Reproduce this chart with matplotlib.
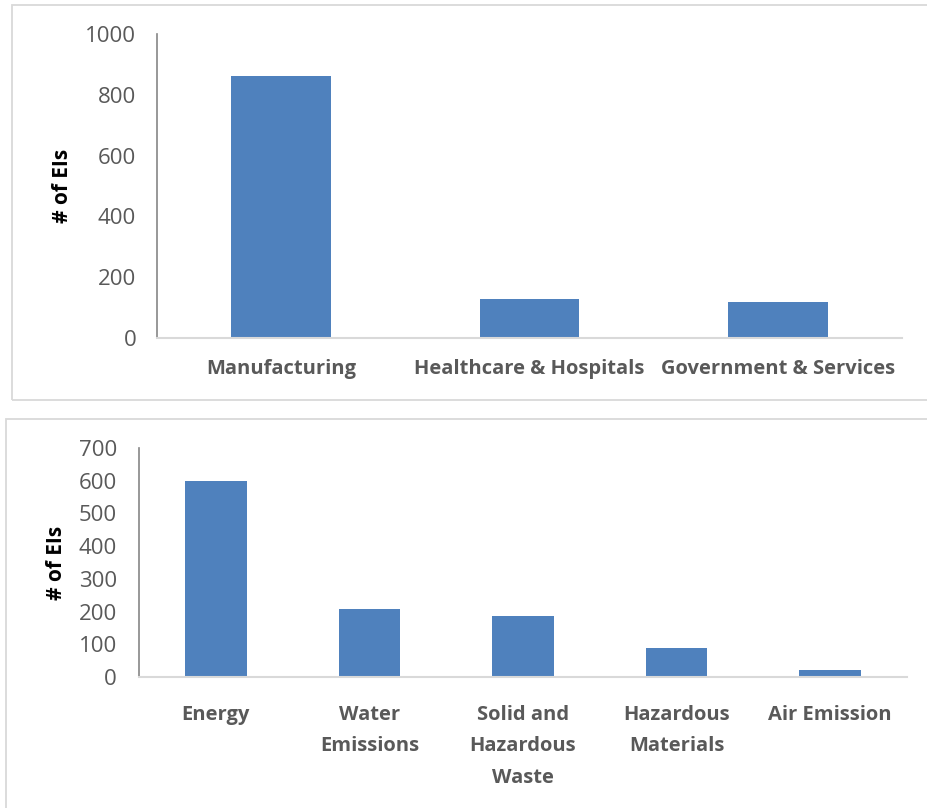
import matplotlib
matplotlib.use("Agg")
import matplotlib.pyplot as plt
from matplotlib.patches import Rectangle
from matplotlib.transforms import blended_transform_factory

# Data
sectors = ["Manufacturing", "Healthcare & Hospitals", "Government & Services"]
sector_counts = [862, 129, 118]
sector_ticks = [0, 200, 400, 600, 800, 1000]

impacts = ["Energy", "Water\nEmissions", "Solid and\nHazardous\nWaste", "Hazardous\nMaterials", "Air Emission"]
impact_counts = [600, 207, 186, 88, 20]
impact_ticks = [0, 100, 200, 300, 400, 500, 600, 700]

BAR = "#4f81bd"
TICK = "#595959"
FONT = "Open Sans"

W, H = 927, 808
fig = plt.figure(figsize=(W / 100, H / 100), dpi=100)

def px_rect(x0, y0, x1, y1):
    # convert a pixel box (top-left origin) to figure fractions
    return [x0 / W, 1 - y1 / H, (x1 - x0) / W, (y1 - y0) / H]

# panel frames
for (x0, y0, x1, y1) in [(12, 5, 940, 400), (6, 419, 940, 830)]:
    l, b, w, h = px_rect(x0, y0, x1, y1)
    fig.patches.append(Rectangle((l, b), w, h, transform=fig.transFigure,
                                 fill=False, edgecolor="#d9d9d9", linewidth=1.3,
                                 clip_on=False))

def style(ax, ticks, ylabel, label_x, ypad):
    ax.set_yticks(ticks)
    ax.set_ylim(ticks[0], ticks[-1])
    for s in ("top", "right"):
        ax.spines[s].set_visible(False)
    ax.spines["left"].set_color("#868686")
    ax.spines["left"].set_linewidth(1.2)
    ax.spines["bottom"].set_color("#d9d9d9")
    ax.spines["bottom"].set_linewidth(1.5)
    ax.tick_params(axis="both", length=0)
    ax.tick_params(axis="y", labelsize=16, labelcolor=TICK, pad=ypad)
    for t in ax.get_yticklabels():
        t.set_fontfamily(FONT)
    for t in ax.get_xticklabels():
        t.set_fontfamily(FONT)
        t.set_fontweight("bold")
        t.set_fontsize(14.5)
        t.set_color(TICK)
        t.set_linespacing(1.78)
        t.set_verticalalignment("top")
    ax.set_ylabel(ylabel, fontsize=15, fontweight="bold", family=FONT, color="black")
    ax.yaxis.set_label_coords(label_x, 0.5,
                              transform=blended_transform_factory(fig.transFigure, ax.transAxes))

# top chart
ax1 = fig.add_axes(px_rect(157, 34, 902, 338))
x1 = range(len(sectors))
ax1.bar(x1, sector_counts, width=0.4, color=BAR)
ax1.set_xlim(-0.5, len(sectors) - 0.5)
ax1.set_xticks(list(x1))
ax1.set_xticklabels(sectors)
ax1.tick_params(axis="x", pad=15)
style(ax1, sector_ticks, "# of EIs", 73 / W, 15)

# bottom chart
ax2 = fig.add_axes(px_rect(139, 448, 907, 677))
x2 = range(len(impacts))
ax2.bar(x2, impact_counts, width=0.4, color=BAR)
ax2.set_xlim(-0.5, len(impacts) - 0.5)
ax2.set_xticks(list(x2))
ax2.tick_params(axis="x", pad=20)
ax2.set_xticklabels(impacts)
style(ax2, impact_ticks, "# of EIs", 67 / W, 16)

fig.savefig("out.png", dpi=100)
